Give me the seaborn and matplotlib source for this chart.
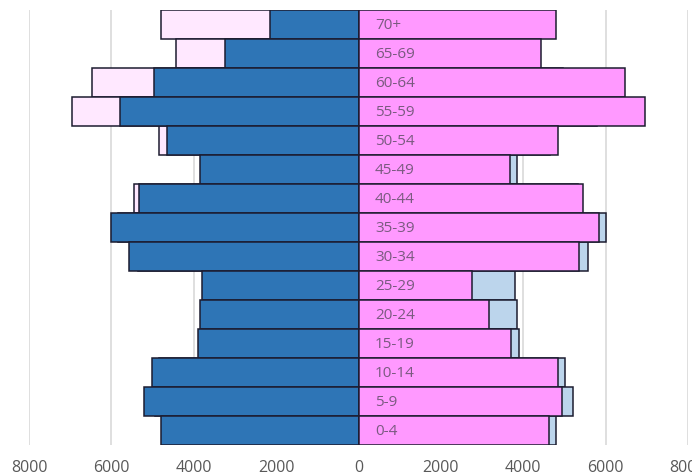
import matplotlib
matplotlib.use("Agg")
import matplotlib.pyplot as plt
import seaborn as sns
import numpy as np
import pandas as pd

ages = ["70+", "65-69", "60-64", "55-59", "50-54", "45-49", "40-44", "35-39",
        "30-34", "25-29", "20-24", "15-19", "10-14", "5-9", "0-4"]
male = [2150, 3250, 4970, 5780, 4650, 3850, 5340, 6005,
        5570, 3810, 3850, 3890, 5015, 5205, 4800]
female = [4800, 4430, 6475, 6960, 4835, 3670, 5460, 5830,
          5350, 2750, 3160, 3700, 4845, 4945, 4630]
tick_values = [-8000, -6000, -4000, -2000, 0, 2000, 4000, 6000, 8000]
tick_labels = ["8000", "6000", "4000", "2000", "0", "2000", "4000", "6000", "8000"]

sns.set_style("white")
plt.rcParams["font.family"] = ["Open Sans", "DejaVu Sans"]

df = pd.DataFrame({"age": ages, "male": male, "female": female})
df["male_neg"] = -df["male"]
df["female_neg"] = -df["female"]

fig = plt.figure(figsize=(6.92, 4.76), dpi=100)
ax = fig.add_axes([29 / 692, 31 / 476, 659 / 692, 435 / 476])

edge = "#1c1c30"
lw = 1.1
common = dict(y="age", orient="h", width=1.0, edgecolor=edge, linewidth=lw,
              order=ages, ax=ax, zorder=2)
sns.barplot(data=df, x="female_neg", color="#FFE8FF", saturation=1, **common)
sns.barplot(data=df, x="male_neg", color="#2E75B6", saturation=1, **common)
sns.barplot(data=df, x="male", color="#BCD5EC", saturation=1, **common)
sns.barplot(data=df, x="female", color="#FF99FF", saturation=1, **common)

for i, a in enumerate(ages):
    ax.text(400, i + 0.03, a, ha="left", va="center", fontsize=11,
            color="#7a5a80", zorder=5)

ax.set_xlim(-8000, 8000)
ax.set_ylim(len(ages) - 0.5, -0.5)
ax.set_xticks(tick_values)
ax.set_xticklabels(tick_labels, fontsize=11.5, color="#595959")
ax.set_yticks([])
ax.set_xlabel("")
ax.set_ylabel("")
for v in tick_values:
    if v != 0:
        ax.axvline(v, color="#d9d9d9", linewidth=1.2, zorder=0)
ax.tick_params(axis="x", length=0, pad=11)
for s in ax.spines.values():
    s.set_visible(False)

fig.savefig("out.png", dpi=100)
